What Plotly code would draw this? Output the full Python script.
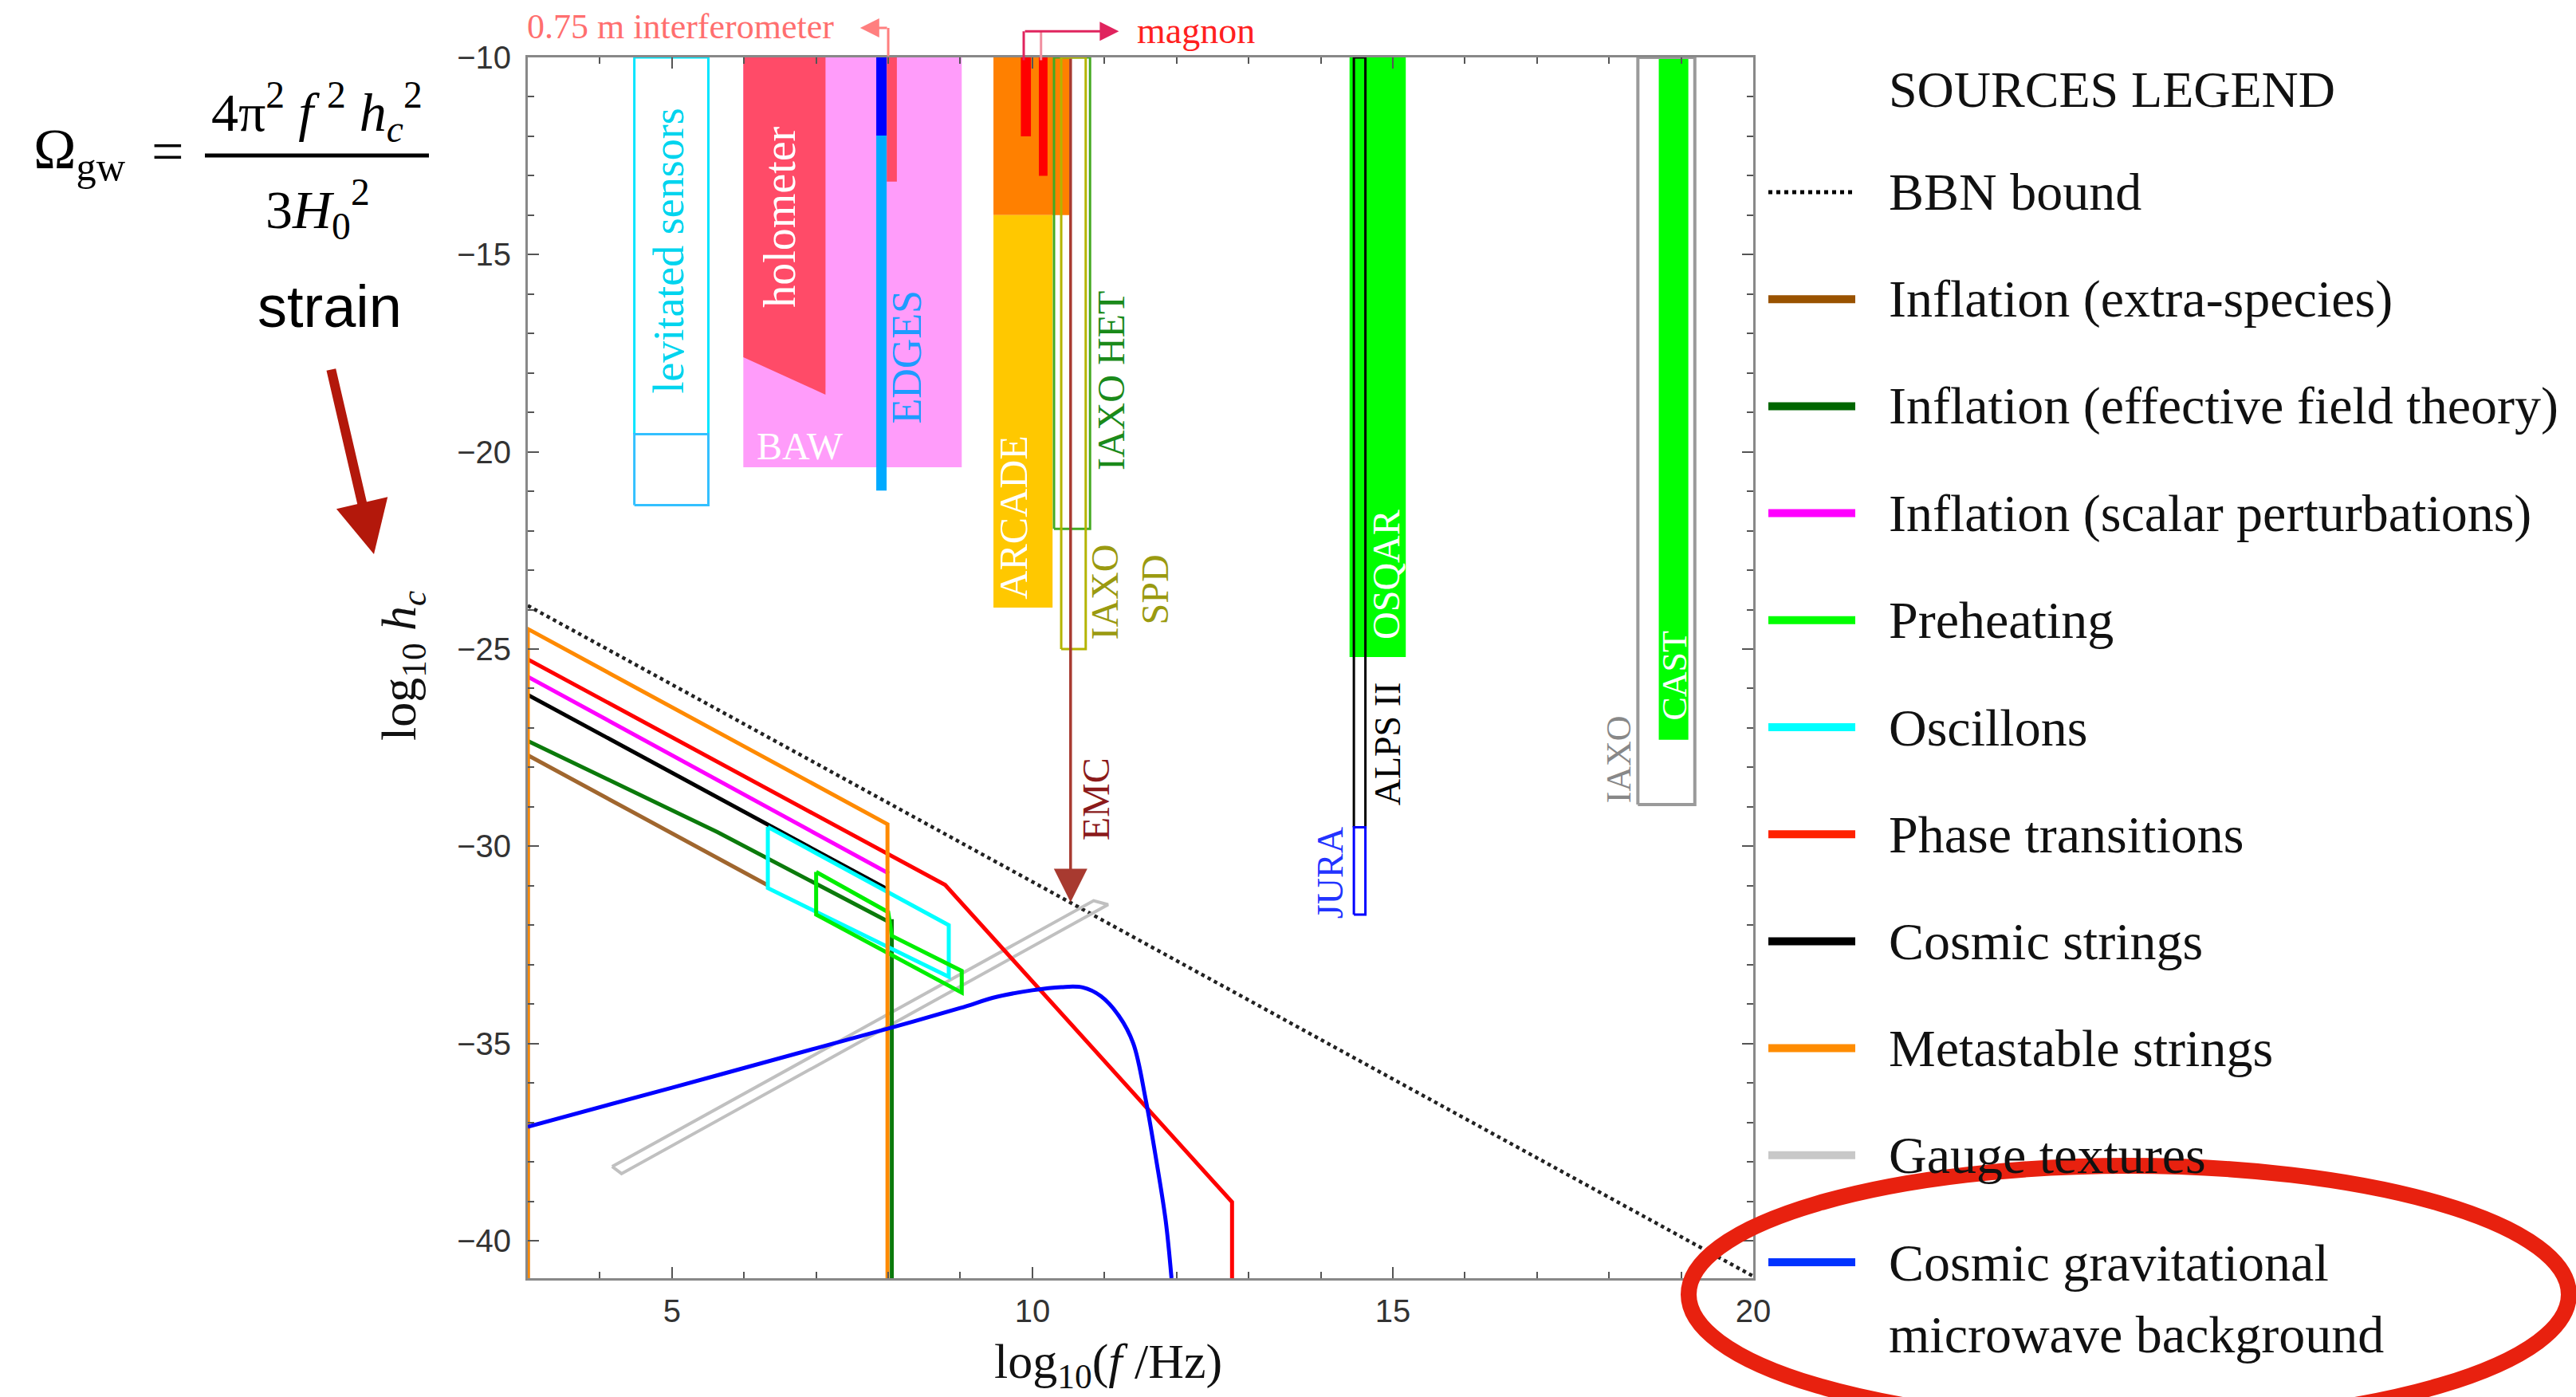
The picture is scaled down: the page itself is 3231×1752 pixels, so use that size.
import plotly.graph_objects as go

W, H = 3231, 1752
PL, PR, PT, PB = 662, 2199, 72, 1603          # plot-area edges in page pixels
X_RANGE = [3, 20]
Y_RANGE = [-40.95, -10]

# ---------------- source curves: x = log10(f/Hz), y = log10 h_c ----------------
bbn_x = [3, 20]
bbn_y = [-23.9, -40.9]
extra_x = [3, 3, 6.33]
extra_y = [-40.95, -27.69, -30.99]
eft_x = [3, 5.63, 7.99, 8.05, 8.05]
eft_y = [-27.33, -29.64, -31.9, -31.9, -40.95]
scalar_x = [3, 8.01]
scalar_y = [-25.7, -30.69]
preheat_x = [7.0, 8.0, 8.05, 9.02, 9.02, 7.0, 7.0]
preheat_y = [-30.65, -31.67, -32.27, -33.16, -33.71, -31.73, -30.65]
osc_x = [6.33, 8.84, 8.84, 6.33, 6.33]
osc_y = [-29.51, -32.0, -33.31, -31.06, -29.51]
pt_x = [3, 8.79, 12.77, 12.77]
pt_y = [-25.26, -30.98, -39.02, -40.95]
cs_x = [3, 7.99]
cs_y = [-26.16, -31.09]
meta_x = [3, 3, 7.99, 7.99]
meta_y = [-40.95, -24.49, -29.44, -40.95]
gauge_x = [4.17, 10.85, 11.05, 4.3, 4.17]
gauge_y = [-38.12, -31.38, -31.48, -38.3, -38.12]
cgmb_x = [3, 5, 7, 8, 9, 9.5, 10, 10.4, 10.7, 10.95, 11.2, 11.4, 11.57, 11.72, 11.85, 11.93]
cgmb_y = [-37.11, -36.12, -35.12, -34.62, -34.1, -33.82, -33.65, -33.57, -33.58,
          -33.8, -34.3, -35.0, -36.4, -37.97, -39.5, -40.95]

# ---------------- detector regions: [x0, x1], [y0, y1] ----------------
lev_x = [4.478, 5.505]; lev_y_up = [-19.55, -10]; lev_y_low = [-21.35, -19.55]
baw_x = [5.99, 9.02]; baw_y = [-20.39, -10]
holo_x = [5.99, 7.13, 7.13, 5.99]; holo_y = [-10, -10, -18.55, -17.6]
interf_x = [7.98, 8.12]; interf_y = [-13.15, -10]
edges_x = 7.906; edges_y_dark = [-10, -11.98]; edges_y_light = [-11.98, -20.98]
arc_or_x = [9.46, 10.51]; arc_or_y = [-14, -10]
arc_ye_x = [9.46, 10.28]; arc_ye_y = [-23.95, -14]
magnon1_x = [9.84, 9.98]; magnon1_y = [-12.0, -10]
magnon2_x = [10.09, 10.21]; magnon2_y = [-13.0, -10]
iaxohet_x = [10.30, 10.80]; iaxohet_y = [-21.95, -10]
iaxospd_x = [10.40, 10.74]; iaxospd_y = [-25.0, -10]
emc_x = 10.53; emc_y = [-10, -31.42]
osqar_x = [14.40, 15.18]; osqar_y = [-25.2, -10]
alps_x = [14.46, 14.62]; alps_y = [-29.52, -10]
jura_x = [14.46, 14.62]; jura_y = [-31.73, -29.52]
cast_x = [18.69, 19.10]; cast_y = [-27.3, -10]
iaxo_x = [18.40, 19.19]; iaxo_y = [-28.94, -10]
# pointers above the frame
interf_ptr_x = [8.0, 7.61]; interf_ptr_y = -9.25
magnon_ptr_x = [9.88, 10.12, 11.2]; magnon_ptr_y = -9.34

# ---------------- legend ----------------
legend_title = "SOURCES LEGEND"
legend_labels = ["BBN bound", "Inflation (extra-species)", "Inflation (effective field theory)",
                 "Inflation (scalar perturbations)", "Preheating", "Oscillons",
                 "Phase transitions", "Cosmic strings", "Metastable strings",
                 "Gauge textures", "Cosmic gravitational"]
legend_colors = ["#000000", "#995200", "#006600", "#ff00ff", "#00ff00", "#00ffff",
                 "#ff2200", "#000000", "#ff8c00", "#c8c8c8", "#0033ff"]

SERIF = "Liberation Serif, Times New Roman, serif"
SANS = "Liberation Sans, Arial, sans-serif"
XPX = (PR - PL) / (X_RANGE[1] - X_RANGE[0])   # pixels per x unit
YPX = (PB - PT) / (Y_RANGE[1] - Y_RANGE[0])   # pixels per y unit


def pxx(px):
    return (px - PL) / (PR - PL)


def pxy(py):
    return (PB - py) / (PB - PT)


def ypaper(y):
    return (y - Y_RANGE[0]) / (Y_RANGE[1] - Y_RANGE[0])


def rect(xs, ys):
    return [xs[0], xs[1], xs[1], xs[0], xs[0]], [ys[0], ys[0], ys[1], ys[1], ys[0]]


fig = go.Figure()


def fill(xs, ys, color):
    fig.add_trace(go.Scatter(x=xs, y=ys, mode="lines", fill="toself", fillcolor=color,
                             line=dict(width=0, color=color), hoverinfo="skip", showlegend=False))


def outline(xs, ys, color, w=3):
    fig.add_trace(go.Scatter(x=xs, y=ys, mode="lines", line=dict(width=w, color=color),
                             hoverinfo="skip", showlegend=False))


def curve(xs, ys, color, w=5, dash=None, shape="linear"):
    fig.add_trace(go.Scatter(x=xs, y=ys, mode="lines",
                             line=dict(width=w, color=color, dash=dash, shape=shape),
                             hoverinfo="skip", showlegend=False))


# detector regions
fill(*rect(baw_x, baw_y), "#ff9cfa")
fill(holo_x + [holo_x[0]], holo_y + [holo_y[0]], "#ff4b68")
fill(*rect(interf_x, interf_y), "#ff4b68")
curve([edges_x, edges_x], edges_y_dark, "#0000ff", w=13)
curve([edges_x, edges_x], edges_y_light, "#00aaff", w=13)
outline(*rect(lev_x, lev_y_up), "#00e5ff", 3)
outline(*rect(lev_x, lev_y_low), "#33c0ff", 3)
fill(*rect(arc_or_x, arc_or_y), "#ff8000")
fill(*rect(arc_ye_x, arc_ye_y), "#ffc800")
fill(*rect(magnon1_x, magnon1_y), "#ff0000")
fill(*rect(magnon2_x, magnon2_y), "#ff0000")
outline(*rect(iaxohet_x, iaxohet_y), "#44aa22", 3)
outline(*rect(iaxospd_x, iaxospd_y), "#b4b400", 3)
fill(*rect(osqar_x, osqar_y), "#00ff00")
outline(*rect(alps_x, alps_y), "#000000", 3)
outline(*rect(jura_x, jura_y), "#0000ff", 3)
fill(*rect(cast_x, cast_y), "#00ff00")
outline(*rect(iaxo_x, iaxo_y), "#9a9a9a", 4)

# source curves
curve(bbn_x, bbn_y, "#222222", w=4.5, dash="dot")
curve(gauge_x, gauge_y, "#c0c0c0", w=4)
curve(extra_x, extra_y, "#a0662e")
curve(eft_x, eft_y, "#0b7a0b")
curve(cs_x, cs_y, "#000000")
curve(scalar_x, scalar_y, "#ff00ff")
curve(pt_x, pt_y, "#ff0000")
curve(osc_x, osc_y, "#00ffff")
curve(preheat_x, preheat_y, "#00ee00")
curve(meta_x, meta_y, "#ff8a00")
curve(cgmb_x, cgmb_y, "#0000ff", shape="spline")

ann = []


def label(x, y, text, color, size=46, angle=-90, font=SERIF, above=False):
    ann.append(dict(x=x, y=ypaper(y) if above else y, xref="x",
                    yref="paper" if above else "y", text=text, showarrow=False,
                    textangle=angle, font=dict(family=font, size=size, color=color),
                    xanchor="center", yanchor="middle"))


label(4.96, -14.9, "levitated sensors", "#00d4ee", 54)
label(6.5, -14.05, "holometer", "#ffffff", 56)
label(6.78, -19.85, "BAW", "#ffffff", 48, angle=0)
label(8.26, -17.6, "EDGES", "#1e9bff", 52)
label(9.74, -21.65, "ARCADE", "#ffffff", 50)
label(11.09, -18.2, "IAXO HET", "#1a8a1a", 48)
label(11.0, -23.55, "IAXO", "#9a9a10", 48)
label(11.7, -23.5, "SPD", "#9a9a10", 48)
label(10.89, -28.8, "EMC", "#8b1a1a", 48)
label(14.9, -23.1, "OSQAR", "#ffffff", 48)
label(14.93, -27.4, "ALPS II", "#000000", 46)
label(14.14, -30.68, "JURA", "#2233ff", 46)
label(18.91, -25.67, "CAST", "#ffffff", 44)
label(18.14, -27.8, "IAXO", "#888888", 44)
label(5.12, -9.22, "0.75 m interferometer", "#ff6f6f", 44, angle=0, above=True)
label(12.27, -9.33, "magnon", "#ff2020", 46, angle=0, above=True)


def seg(x0, y0, x1, y1, color, w=3, head=0, size=1.0):
    # tail (x0, y0) -> tip (x1, y1); tip in data x / paper y, tail as pixel offset
    ann.append(dict(x=x1, y=ypaper(y1), xref="x", yref="paper",
                    axref="pixel", ayref="pixel",
                    ax=(x0 - x1) * XPX, ay=-(y0 - y1) * YPX,
                    text="", showarrow=True, arrowhead=head, arrowsize=size,
                    arrowwidth=w, arrowcolor=color, standoff=0, startstandoff=0))


# connectors above the frame
seg(interf_ptr_x[0], -10.0, interf_ptr_x[0], interf_ptr_y, "#ff7f7f", 3)
seg(interf_ptr_x[0], interf_ptr_y, interf_ptr_x[1], interf_ptr_y, "#ff7f7f", 3, head=2, size=1.6)
seg(magnon_ptr_x[0], -10.1, magnon_ptr_x[0], magnon_ptr_y, "#e0245e", 3)
seg(magnon_ptr_x[1], -10.1, magnon_ptr_x[1], magnon_ptr_y, "#f08fa0", 3)
seg(magnon_ptr_x[0], magnon_ptr_y, magnon_ptr_x[2], magnon_ptr_y, "#e0245e", 3, head=2, size=1.6)
# EMC arrow
seg(emc_x, emc_y[0], emc_x, emc_y[1], "#a83a30", 3.5, head=2, size=2.4)

# legend
LX0, LX1, LT = 2218, 2327, 2367
ann.append(dict(x=pxx(LT), y=pxy(112), xref="paper", yref="paper", text=legend_title,
                showarrow=False, xanchor="left", yanchor="middle",
                font=dict(family=SERIF, size=64, color="#111111")))
shapes = []
for i, (lab, col) in enumerate(zip(legend_labels, legend_colors)):
    yy = 241 + i * 134.2
    shapes.append(dict(type="line", xref="paper", yref="paper", x0=pxx(LX0), x1=pxx(LX1),
                       y0=pxy(yy), y1=pxy(yy),
                       line=dict(color=col, width=5 if i == 0 else 10,
                                 dash="dot" if i == 0 else "solid")))
    ann.append(dict(x=pxx(LT), y=pxy(yy), xref="paper", yref="paper", text=lab,
                    showarrow=False, xanchor="left", yanchor="middle",
                    font=dict(family=SERIF, size=66, color="#111111")))
ann.append(dict(x=pxx(LT), y=pxy(1673), xref="paper", yref="paper",
                text="microwave background", showarrow=False, xanchor="left",
                yanchor="middle", font=dict(family=SERIF, size=66, color="#111111")))

# frame-side annotations: formula, strain, arrow, axis titles
ann.append(dict(x=pxx(40), y=pxy(192), xref="paper", yref="paper",
                text="Ω<sub>gw</sub>", showarrow=False, xanchor="left", yanchor="middle",
                font=dict(family=SERIF, size=72, color="#000")))
ann.append(dict(x=pxx(210), y=pxy(190), xref="paper", yref="paper",
                text="=", showarrow=False, xanchor="center", yanchor="middle",
                font=dict(family=SERIF, size=72, color="#000")))
ann.append(dict(x=pxx(397), y=pxy(140), xref="paper", yref="paper",
                text="4π<sup>2</sup> <i>f</i> <sup>2</sup> <i>h</i><sub><i>c</i></sub><sup>2</sup>",
                showarrow=False, xanchor="center", yanchor="middle",
                font=dict(family=SERIF, size=68, color="#000")))
ann.append(dict(x=pxx(398), y=pxy(262), xref="paper", yref="paper",
                text="3<i>H</i><sub>0</sub><sup>2</sup>",
                showarrow=False, xanchor="center", yanchor="middle",
                font=dict(family=SERIF, size=68, color="#000")))
shapes.append(dict(type="line", xref="paper", yref="paper", x0=pxx(257), x1=pxx(538),
                   y0=pxy(195), y1=pxy(195), line=dict(color="#000", width=5)))
ann.append(dict(x=pxx(413), y=pxy(385), xref="paper", yref="paper", text="strain",
                showarrow=False, xanchor="center", yanchor="middle",
                font=dict(family=SANS, size=74, color="#000")))
ann.append(dict(x=pxx(469), y=pxy(695), xref="paper", yref="paper", text="",
                showarrow=True, axref="pixel", ayref="pixel", ax=-54, ay=-233,
                arrowhead=2, arrowsize=1.1, arrowwidth=12, arrowcolor="#b3180b",
                standoff=0))
ann.append(dict(x=pxx(504), y=pxy(835), xref="paper", yref="paper",
                text="log<sub>10</sub> <i>h<sub>c</sub></i>", textangle=-90,
                showarrow=False, xanchor="center", yanchor="middle",
                font=dict(family=SERIF, size=62, color="#111")))
ann.append(dict(x=pxx(1390), y=pxy(1712), xref="paper", yref="paper",
                text="log<sub>10</sub>(<i>f</i> /Hz)",
                showarrow=False, xanchor="center", yanchor="middle",
                font=dict(family=SERIF, size=62, color="#111")))

# hand-drawn red ring around the last legend entry
shapes.append(dict(type="circle", xref="paper", yref="paper", layer="above",
                   x0=pxx(2118), x1=pxx(3222), y0=pxy(1785), y1=pxy(1462),
                   line=dict(color="#e8210f", width=20)))

axis_common = dict(showgrid=False, zeroline=False, showline=True, linecolor="#888888",
                   linewidth=3, mirror="allticks", ticks="inside", ticklen=14,
                   tickwidth=2, tickcolor="#555555",
                   tickfont=dict(family=SANS, size=40, color="#333333"),
                   minor=dict(ticks="inside", ticklen=8, tickwidth=2, tickcolor="#555555",
                              dtick=1))
fig.update_layout(
    width=W, height=H, plot_bgcolor="white", paper_bgcolor="white",
    margin=dict(l=PL, r=W - PR, t=PT, b=H - PB, pad=0),
    xaxis=dict(range=X_RANGE, tick0=0, dtick=5, ticklabelstandoff=4, **axis_common),
    yaxis=dict(range=Y_RANGE, tick0=0, dtick=5, ticklabelstandoff=10, **axis_common),
    annotations=ann, shapes=shapes, showlegend=False,
)
fig.write_html("out.html")
